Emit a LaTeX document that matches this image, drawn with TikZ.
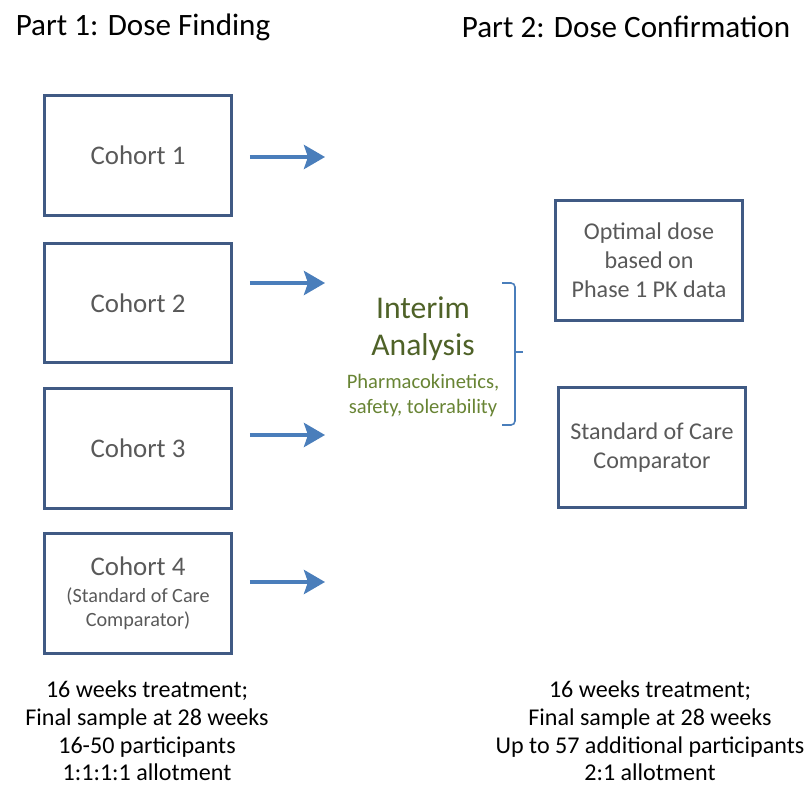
\documentclass[tikz,border=0pt]{standalone}
\usepackage{fontspec}
\setmainfont{Carlito}
\usetikzlibrary{arrows.meta, positioning}
\definecolor{boxline}{RGB}{64,90,132}
\definecolor{arrowblue}{RGB}{74,126,187}
\definecolor{boxtext}{RGB}{89,89,89}
\definecolor{olive}{RGB}{79,98,40}
\definecolor{olivelight}{RGB}{104,132,52}

\begin{document}
\begin{tikzpicture}[x = 0.02cm, y = -0.02cm,
  cohort/.style = {draw = boxline, line width = 1.7pt, minimum width = 3.74cm, minimum height = 2.4cm, align = center, text = boxtext, inner sep = 0pt},
  flow/.style = {arrowblue, line width = 2.8pt, shorten <= 0.34cm, -{Stealth[length = 0.42cm, width = 0.48cm, inset = 0.08cm]}},
  note/.style = {align = center, font = \fontsize{13.7}{15.7}\selectfont}]
\useasboundingbox (0, 0) rectangle (811, 787);
% titles
\node[font = \fontsize{17.7}{20}\selectfont] (p1) at (143, 27) {Part 1: Dose Finding};
\node[font = \fontsize{17.7}{20}\selectfont] (p2) at (626, 27) {Part 2: Dose Confirmation};
% part 1 cohorts
\node[cohort, font = \fontsize{15.3}{17}\selectfont] (c1) at (138, 155.5) {Cohort 1};
\node[cohort, font = \fontsize{15.3}{17}\selectfont] (c2) at (138, 303) {Cohort 2};
\node[cohort, font = \fontsize{15.3}{17}\selectfont] (c3) at (138, 448.5) {Cohort 3};
\node[cohort, font = \fontsize{11.5}{13.6}\selectfont] (c4) at (138, 593.5) {{\fontsize{15.3}{17}\selectfont Cohort 4}\\[1.5pt](Standard of Care\\[0.5pt]Comparator)};
\coordinate (e1) at (325, 157);
\coordinate (e2) at (325, 283);
\coordinate (e3) at (325, 435);
\coordinate (e4) at (325, 582);
\foreach \i in {1,...,4}
  \draw[flow] (c\i.east |- e\i) -- (e\i);
% interim analysis
\node[align = center, text = olive, font = \fontsize{18}{21}\selectfont] (ia) at (423, 329) {Interim\\Analysis};
\node[align = center, text = olivelight, font = \fontsize{11.7}{14.2}\selectfont, below = 0.02cm of ia] (ian) {Pharmacokinetics,\\safety, tolerability};
\draw[arrowblue, line width = 0.9pt, rounded corners = 0.08cm] (502, 283) -- (515, 283) -- (515, 425) -- (502, 425);
\draw[arrowblue, line width = 0.9pt] (515, 352) -- (523, 352);
% part 2 arms
\node[cohort, font = \fontsize{13.7}{16.4}\selectfont] (d1) at (649, 260.5) {Optimal dose\\based on\\Phase 1 PK data};
\node[cohort, font = \fontsize{13.7}{16.4}\selectfont] (d2) at (652, 447.5) {Standard of Care\\Comparator};
% notes
\node[note] (n1) at (147, 731) {16 weeks treatment;\\Final sample at 28 weeks\\16-50 participants\\1:1:1:1 allotment};
\node[note] (n2) at (650, 731) {16 weeks treatment;\\Final sample at 28 weeks\\Up to 57 additional participants\\2:1 allotment};
\end{tikzpicture}
\end{document}
